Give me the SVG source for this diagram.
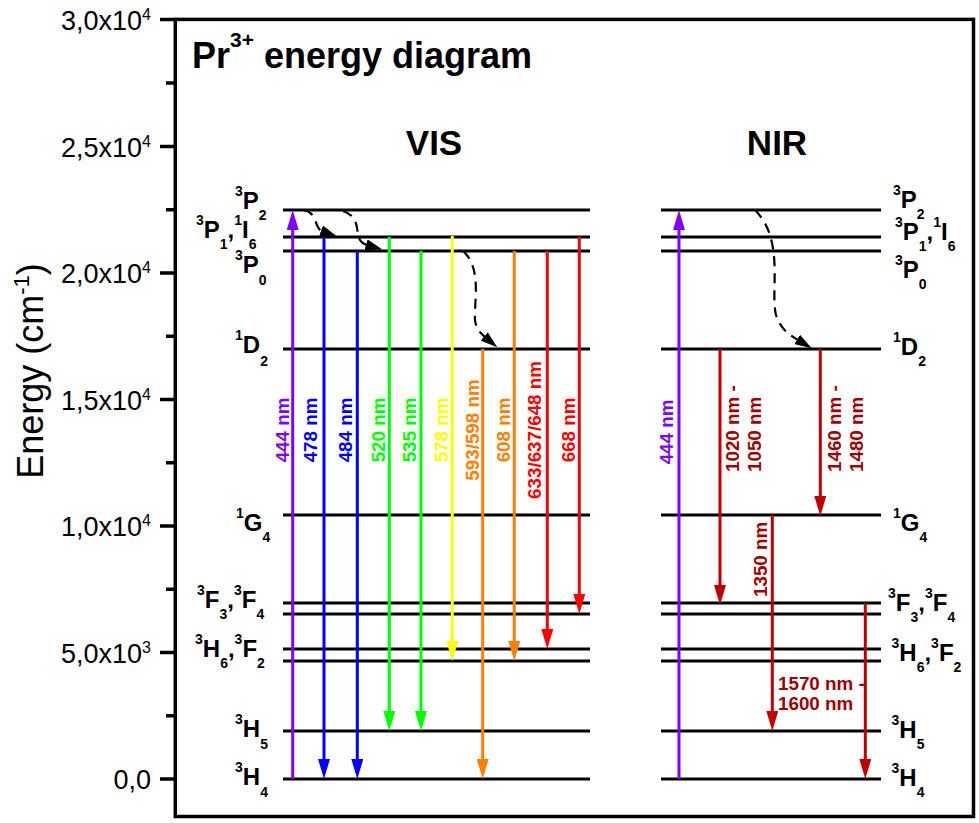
<svg xmlns="http://www.w3.org/2000/svg" width="979" height="823" viewBox="0 0 979 823">
<style>
.lvl{stroke:#000;stroke-width:3;fill:none}
.lt{font-family:"Liberation Sans",Arial,sans-serif;font-weight:bold;font-size:24px;fill:#000}
.s{font-size:14px}
.tk{font-family:"Liberation Sans",Arial,sans-serif;font-size:27px;text-anchor:end;fill:#000}
.tks{font-size:16px}
.al{font-family:"Liberation Sans",Arial,sans-serif;font-weight:bold;font-size:18.8px}
.mid{text-anchor:middle}
.arr{stroke-width:3;fill:none}
.dash{stroke:#000;stroke-width:2.2;stroke-dasharray:10 7;fill:none}
.hd{font-family:"Liberation Sans",Arial,sans-serif;font-weight:bold;font-size:35px;fill:#000}
.ax{stroke:#000;stroke-width:3.5;fill:none}
</style>
<defs>
<marker id="mP" markerUnits="userSpaceOnUse" markerWidth="20" markerHeight="12" refX="12" refY="6" orient="auto"><path d="M0,0 L20,6 L0,12 z" fill="#8000FF"/></marker>
<marker id="mB" markerUnits="userSpaceOnUse" markerWidth="20" markerHeight="12" refX="12" refY="6" orient="auto"><path d="M0,0 L20,6 L0,12 z" fill="#0000FF"/></marker>
<marker id="mG" markerUnits="userSpaceOnUse" markerWidth="20" markerHeight="12" refX="12" refY="6" orient="auto"><path d="M0,0 L20,6 L0,12 z" fill="#00FF00"/></marker>
<marker id="mY" markerUnits="userSpaceOnUse" markerWidth="20" markerHeight="12" refX="12" refY="6" orient="auto"><path d="M0,0 L20,6 L0,12 z" fill="#FFFF00"/></marker>
<marker id="mO" markerUnits="userSpaceOnUse" markerWidth="20" markerHeight="12" refX="12" refY="6" orient="auto"><path d="M0,0 L20,6 L0,12 z" fill="#FF8000"/></marker>
<marker id="mR" markerUnits="userSpaceOnUse" markerWidth="20" markerHeight="12" refX="12" refY="6" orient="auto"><path d="M0,0 L20,6 L0,12 z" fill="#FF0000"/></marker>
<marker id="mD" markerUnits="userSpaceOnUse" markerWidth="20" markerHeight="12" refX="12" refY="6" orient="auto"><path d="M0,0 L20,6 L0,12 z" fill="#C00000"/></marker>
<marker id="mK" markerUnits="userSpaceOnUse" markerWidth="18" markerHeight="11" refX="1" refY="5.5" orient="auto"><path d="M0,0 L17,5.5 L0,11 z" fill="#000"/></marker>
</defs>
<rect x="0" y="0" width="979" height="823" fill="#fff"/>

<g id="axis">
<rect class="ax" x="175.3" y="19.4" width="798.2" height="797.1"/>
<path class="ax" d="M160,19.4H175 M160,146.4H175 M160,273H175 M160,399.5H175 M160,526H175 M160,652.5H175 M160,779H175 M166,83H175 M166,209.7H175 M166,336.3H175 M166,462.8H175 M166,589.3H175 M166,715.8H175"/>
<text class="tk" x="151" y="30">3,0x10<tspan class="tks" dy="-10">4</tspan></text>
<text class="tk" x="151" y="156.5">2,5x10<tspan class="tks" dy="-10">4</tspan></text>
<text class="tk" x="151" y="283">2,0x10<tspan class="tks" dy="-10">4</tspan></text>
<text class="tk" x="151" y="409.5">1,5x10<tspan class="tks" dy="-10">4</tspan></text>
<text class="tk" x="151" y="536">1,0x10<tspan class="tks" dy="-10">4</tspan></text>
<text class="tk" x="151" y="662.5">5,0x10<tspan class="tks" dy="-10">3</tspan></text>
<text class="tk" x="151" y="789">0,0</text>
<text transform="translate(43,371) rotate(-90)" text-anchor="middle" font-family="Liberation Sans, Arial, sans-serif" font-size="36" fill="#000">Energy (cm<tspan font-size="22" dy="-14">-1</tspan><tspan dy="14">)</tspan></text>
</g>

<g id="title">
<text class="hd" x="192" y="68" style="font-size:36px">Pr<tspan style="font-size:21px" dy="-21">3+</tspan><tspan dy="21"> energy diagram</tspan></text>
<text class="hd mid" x="434" y="155">VIS</text>
<text class="hd mid" x="777" y="155">NIR</text>
</g>

<g id="lvl-3P2">
<path class="lvl" d="M283,210H590 M661,210H881"/>
<text class="lt" x="235" y="209"><tspan class="s" dy="-13">3</tspan><tspan dy="13">P</tspan><tspan class="s" dy="11">2</tspan></text>
<text class="lt" x="893" y="208"><tspan class="s" dy="-13">3</tspan><tspan dy="13">P</tspan><tspan class="s" dy="11">2</tspan></text>
</g>
<g id="lvl-3P1-1I6">
<path class="lvl" d="M283,237H590 M661,237H881"/>
<text class="lt" x="196" y="238"><tspan class="s" dy="-13">3</tspan><tspan dy="13">P</tspan><tspan class="s" dy="11">1</tspan><tspan dy="-11">,</tspan><tspan class="s" dy="-13">1</tspan><tspan dy="13">I</tspan><tspan class="s" dy="11">6</tspan></text>
<text class="lt" x="895" y="240"><tspan class="s" dy="-13">3</tspan><tspan dy="13">P</tspan><tspan class="s" dy="11">1</tspan><tspan dy="-11">,</tspan><tspan class="s" dy="-13">1</tspan><tspan dy="13">I</tspan><tspan class="s" dy="11">6</tspan></text>
</g>
<g id="lvl-3P0">
<path class="lvl" d="M283,251H590 M661,251H881"/>
<text class="lt" x="235" y="273"><tspan class="s" dy="-13">3</tspan><tspan dy="13">P</tspan><tspan class="s" dy="12">0</tspan></text>
<text class="lt" x="895" y="278"><tspan class="s" dy="-13">3</tspan><tspan dy="13">P</tspan><tspan class="s" dy="11">0</tspan></text>
</g>
<g id="lvl-1D2">
<path class="lvl" d="M283,349H590 M661,349H881"/>
<text class="lt" x="235" y="353"><tspan class="s" dy="-13">1</tspan><tspan dy="13">D</tspan><tspan class="s" dy="13">2</tspan></text>
<text class="lt" x="893" y="355"><tspan class="s" dy="-13">1</tspan><tspan dy="13">D</tspan><tspan class="s" dy="11">2</tspan></text>
</g>
<g id="lvl-1G4">
<path class="lvl" d="M283,515H590 M661,515H881"/>
<text class="lt" x="236" y="531"><tspan class="s" dy="-13">1</tspan><tspan dy="13">G</tspan><tspan class="s" dy="11">4</tspan></text>
<text class="lt" x="893" y="531"><tspan class="s" dy="-13">1</tspan><tspan dy="13">G</tspan><tspan class="s" dy="11">4</tspan></text>
</g>
<g id="lvl-3F3-3F4">
<path class="lvl" d="M283,603H590 M661,603H881 M283,614H590 M661,614H881"/>
<text class="lt" x="197" y="608"><tspan class="s" dy="-13">3</tspan><tspan dy="13">F</tspan><tspan class="s" dy="11">3</tspan><tspan dy="-11">,</tspan><tspan class="s" dy="-13">3</tspan><tspan dy="13">F</tspan><tspan class="s" dy="11">4</tspan></text>
<text class="lt" x="888" y="611"><tspan class="s" dy="-13">3</tspan><tspan dy="13">F</tspan><tspan class="s" dy="11">3</tspan><tspan dy="-11">,</tspan><tspan class="s" dy="-13">3</tspan><tspan dy="13">F</tspan><tspan class="s" dy="11">4</tspan></text>
</g>
<g id="lvl-3H6-3F2">
<path class="lvl" d="M283,649H590 M661,649H881 M283,661H590 M661,661H881"/>
<text class="lt" x="195" y="657"><tspan class="s" dy="-13">3</tspan><tspan dy="13">H</tspan><tspan class="s" dy="11">6</tspan><tspan dy="-11">,</tspan><tspan class="s" dy="-13">3</tspan><tspan dy="13">F</tspan><tspan class="s" dy="11">2</tspan></text>
<text class="lt" x="891.5" y="661"><tspan class="s" dy="-13">3</tspan><tspan dy="13">H</tspan><tspan class="s" dy="11">6</tspan><tspan dy="-11">,</tspan><tspan class="s" dy="-13">3</tspan><tspan dy="13">F</tspan><tspan class="s" dy="11">2</tspan></text>
</g>
<g id="lvl-3H5">
<path class="lvl" d="M283,731H590 M661,731H881"/>
<text class="lt" x="235" y="737"><tspan class="s" dy="-13">3</tspan><tspan dy="13">H</tspan><tspan class="s" dy="12">5</tspan></text>
<text class="lt" x="891.5" y="738"><tspan class="s" dy="-13">3</tspan><tspan dy="13">H</tspan><tspan class="s" dy="11">5</tspan></text>
</g>
<g id="lvl-3H4">
<path class="lvl" d="M283,779H590 M661,779H881"/>
<text class="lt" x="235" y="785"><tspan class="s" dy="-13">3</tspan><tspan dy="13">H</tspan><tspan class="s" dy="12">4</tspan></text>
<text class="lt" x="891.5" y="786"><tspan class="s" dy="-13">3</tspan><tspan dy="13">H</tspan><tspan class="s" dy="11">4</tspan></text>
</g>

<g id="connectors">
<line class="arr" x1="292.7" y1="779" x2="292.7" y2="218" stroke="#8000FF" marker-end="url(#mP)"/>
<line class="arr" x1="324" y1="237" x2="324" y2="771" stroke="#0000FF" marker-end="url(#mB)"/>
<line class="arr" x1="357.3" y1="251" x2="357.3" y2="771" stroke="#0000FF" marker-end="url(#mB)"/>
<line class="arr" x1="389.3" y1="237" x2="389.3" y2="723" stroke="#00FF00" marker-end="url(#mG)"/>
<line class="arr" x1="421" y1="251" x2="421" y2="723" stroke="#00FF00" marker-end="url(#mG)"/>
<line class="arr" x1="452.3" y1="236" x2="452.3" y2="653" stroke="#FFFF00" marker-end="url(#mY)"/>
<line class="arr" x1="482.7" y1="349" x2="482.7" y2="771" stroke="#FF8000" marker-end="url(#mO)"/>
<line class="arr" x1="514.3" y1="251" x2="514.3" y2="653" stroke="#FF8000" marker-end="url(#mO)"/>
<line class="arr" x1="547.3" y1="251" x2="547.3" y2="641" stroke="#FF0000" marker-end="url(#mR)"/>
<line class="arr" x1="579.3" y1="237" x2="579.3" y2="606" stroke="#FF0000" marker-end="url(#mR)"/>
<line class="arr" x1="679" y1="779" x2="679" y2="218" stroke="#8000FF" marker-end="url(#mP)"/>
<line class="arr" x1="720" y1="349" x2="720" y2="597" stroke="#C00000" marker-end="url(#mD)"/>
<line class="arr" x1="820.3" y1="349" x2="820.3" y2="508" stroke="#C00000" marker-end="url(#mD)"/>
<line class="arr" x1="772.3" y1="515" x2="772.3" y2="723" stroke="#C00000" marker-end="url(#mD)"/>
<line class="arr" x1="865.3" y1="603" x2="865.3" y2="771" stroke="#C00000" marker-end="url(#mD)"/>
<path class="dash" d="M304,210 C318,213 314,228 322,231" marker-end="url(#mK)"/>
<path class="dash" d="M343,211 C366,219 350,240 367,245" marker-end="url(#mK)"/>
<path class="dash" d="M463,251 C482,268 474,300 475,320 C476,328 479,332 485,337" marker-end="url(#mK)"/>
<path class="dash" d="M755,210 C785,240 770,290 776,315 C780,328 788,334 798,340" marker-end="url(#mK)"/>
</g>

<g id="arrow-labels">
<text class="al mid" transform="translate(289,430) rotate(-90)" fill="#8000FF">444 nm</text>
<text class="al mid" transform="translate(317,430) rotate(-90)" fill="#0000FF">478 nm</text>
<text class="al mid" transform="translate(352,430) rotate(-90)" fill="#0000FF">484 nm</text>
<text class="al mid" transform="translate(384.5,430) rotate(-90)" fill="#00FF00">520 nm</text>
<text class="al mid" transform="translate(416,430) rotate(-90)" fill="#00FF00">535 nm</text>
<text class="al mid" transform="translate(447.5,430) rotate(-90)" fill="#FFFF00">578 nm</text>
<text class="al mid" transform="translate(479,430) rotate(-90)" fill="#FF8000">593/598 nm</text>
<text class="al mid" transform="translate(509.5,430) rotate(-90)" fill="#FF8000">608 nm</text>
<text class="al mid" transform="translate(541,430) rotate(-90)" fill="#FF0000">633/637/648 nm</text>
<text class="al mid" transform="translate(574.5,430) rotate(-90)" fill="#FF0000">668 nm</text>
<text class="al mid" transform="translate(673,432) rotate(-90)" fill="#8000FF">444 nm</text>
<text class="al" transform="translate(739,472) rotate(-90)" fill="#A00000">1020 nm -</text>
<text class="al" transform="translate(760.5,472) rotate(-90)" fill="#A00000">1050 nm</text>
<text class="al" transform="translate(841,472) rotate(-90)" fill="#A00000">1460 nm -</text>
<text class="al" transform="translate(862.5,472) rotate(-90)" fill="#A00000">1480 nm</text>
<text class="al" transform="translate(767,597) rotate(-90)" fill="#A00000">1350 nm</text>
<text class="al" x="778" y="690" fill="#A00000">1570 nm -</text>
<text class="al" x="778" y="710" fill="#A00000">1600 nm</text>
</g>
</svg>
